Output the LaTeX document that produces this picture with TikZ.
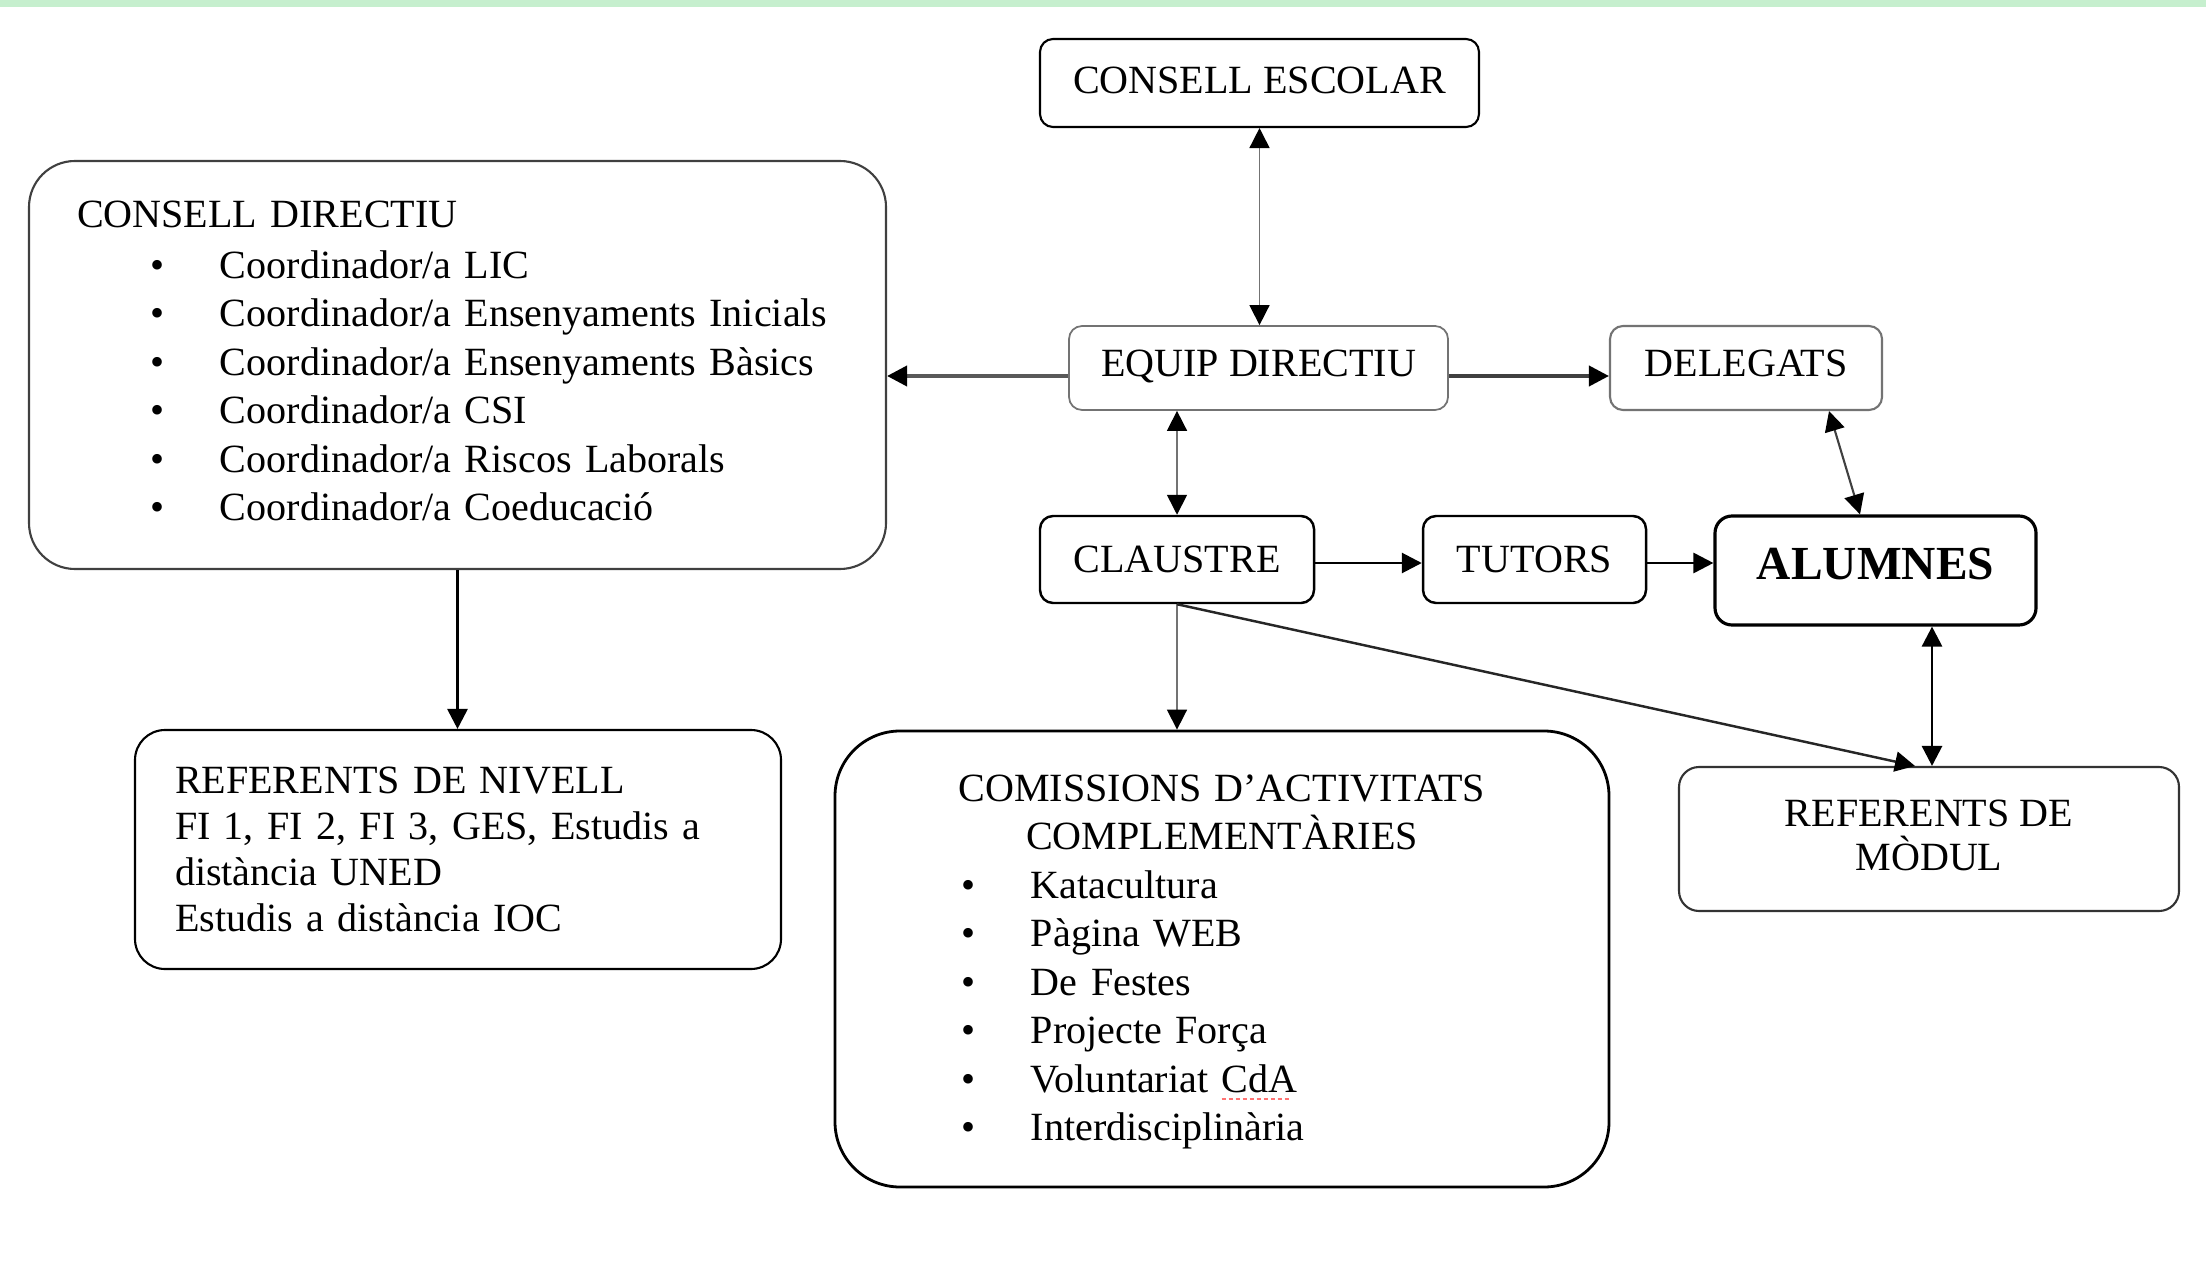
\documentclass[tikz,border=0pt]{standalone}
\usepackage{fontspec}
\setmainfont{Liberation Serif}
\usetikzlibrary{arrows.meta,positioning}
\definecolor{verdclar}{RGB}{198,239,206}
\newlength{\amplesub}
\newcommand{\punt}[2]{\hspace*{#1}\makebox[7mm][l]{\textbullet}#2}
\newcommand{\subratlla}[1]{\settowidth{\amplesub}{#1}%
  \rlap{\textcolor{red!55}{\leaders\hbox to 0.7mm{\rule[-0.75mm]{0.45mm}{0.22mm}\hss}\hskip\amplesub}}#1}

\begin{document}
\begin{tikzpicture}[caixa/.style={draw, rounded corners=1.3mm, line width=0.6pt, inner sep=0pt,
                      font=\fontsize{11.4}{13.8}\selectfont},
                    fl/.style={-{Triangle[length=2mm,width=2mm,color=black]}},
                    dfl/.style={{Triangle[length=2mm,width=2mm,color=black]}-{Triangle[length=2mm,width=2mm,color=black]}},
                    prim/.style={draw=black!55, line width=0.45pt},
                    gruix/.style={draw=black!75, line width=1.1pt},
                    negre/.style={draw=black, line width=0.8pt}]
  \useasboundingbox (0,0) rectangle (22.06,-12.82);
  \fill[verdclar] (0,0) rectangle (22.06,-0.07);

  \node[caixa, text depth=0.5mm, minimum width=4.39cm, minimum height=0.88cm] (escolar) at (12.595,-0.83) {CONSELL ESCOLAR};
  \node[caixa, draw=black!55, line width=0.5pt, text depth=0.9mm, minimum width=3.79cm, minimum height=0.84cm] (equip) at (12.585,-3.68) {EQUIP DIRECTIU};
  \node[caixa, draw=black!55, text depth=0.9mm, minimum width=2.72cm, minimum height=0.84cm] (delegats) at (17.46,-3.68) {DELEGATS};
  \node[caixa, line width=0.7pt, minimum width=2.74cm, minimum height=0.87cm] (claustre) at (11.77,-5.595) {CLAUSTRE};
  \node[caixa, line width=0.7pt, minimum width=2.23cm, minimum height=0.87cm] (tutors) at (15.345,-5.595) {TUTORS};
  \node[caixa, line width=0.9pt, rounded corners=1.7mm, text depth=1.3mm, minimum width=3.21cm, minimum height=1.09cm,
        font=\fontsize{13.5}{16}\selectfont\bfseries] (alumnes) at (18.755,-5.705) {ALUMNES};
  \node[caixa, draw=black!80, rounded corners=2mm, align=center, text depth=0.8mm, minimum width=5.0cm, minimum height=1.44cm,
        font=\fontsize{11.4}{12.5}\selectfont] (modul) at (19.29,-8.39) {REFERENTS DE\\MÒDUL};

  \node[caixa, draw=black!75, rounded corners=4.6mm, text width=7.61cm, inner xsep=4.8mm, minimum height=4.08cm,
        text height=1.9mm, align=left] (directiu) at (4.575,-3.65)
       {CONSELL DIRECTIU\\[0.2mm]
        \punt{7.3mm}{Coordinador/a LIC}\\
        \punt{7.3mm}{Coordinador/a Ensenyaments Inicials}\\
        \punt{7.3mm}{Coordinador/a Ensenyaments Bàsics}\\
        \punt{7.3mm}{Coordinador/a CSI}\\
        \punt{7.3mm}{Coordinador/a Riscos Laborals}\\
        \punt{7.3mm}{Coordinador/a Coeducació}};
  \node[caixa, rounded corners=3mm, text width=5.66cm, inner xsep=4mm, minimum height=2.39cm, align=left,
        font=\fontsize{11.4}{13.1}\selectfont] (nivell) at (4.58,-8.495)
       {REFERENTS DE NIVELL\\
        FI 1, FI 2, FI 3, GES, Estudis a\\
        distància UNED\\
        Estudis a distància IOC};
  \node[caixa, line width=0.8pt, rounded corners=6.5mm, text width=7.74cm, inner xsep=0pt, minimum height=4.56cm,
        text height=3.3mm, align=left] (comissions) at (12.22,-9.59)
       {\makebox[7.74cm]{COMISSIONS D’ACTIVITATS}\\
        \makebox[7.74cm]{COMPLEMENTÀRIES}\\
        \punt{12.6mm}{Katacultura}\\
        \punt{12.6mm}{Pàgina WEB}\\
        \punt{12.6mm}{De Festes}\\
        \punt{12.6mm}{Projecte Força}\\
        \punt{12.6mm}{Voluntariat \subratlla{CdA}}\\
        \punt{12.6mm}{Interdisciplinària}};

  \draw[prim, dfl] (escolar.south) -- (escolar.south |- equip.north);
  \draw[prim, dfl] (claustre.north) -- (claustre.north |- equip.south);
  \draw[gruix, fl] ([yshift=-0.8mm]equip.east) -- ([yshift=-0.8mm]equip.east -| delegats.west);
  \draw[gruix, draw=black!65, fl] ([yshift=-0.8mm]equip.west) -- ([yshift=-0.8mm]equip.west -| directiu.east);
  \draw[draw=black!75, line width=0.6pt, dfl] ([xshift=8.3mm]delegats.south) -- ([xshift=-1.55mm]alumnes.north);
  \draw[negre, fl] ([yshift=-0.35mm]claustre.east) -- ([yshift=-0.35mm]claustre.east -| tutors.west);
  \draw[negre, fl] ([yshift=-0.35mm]tutors.east) -- ([yshift=-0.35mm]tutors.east -| alumnes.west);
  \draw[negre, dfl] ([xshift=5.65mm]alumnes.south) -- ([xshift=5.65mm]alumnes.south |- modul.north);
  \draw[prim, fl] (claustre.south) -- (claustre.south |- comissions.north);
  \draw[draw=black!85, line width=0.7pt, fl] (claustre.south) -- ([xshift=-1.4mm]modul.north);
  \draw[negre, fl] (directiu.south) -- (directiu.south |- nivell.north);
\end{tikzpicture}
\end{document}
